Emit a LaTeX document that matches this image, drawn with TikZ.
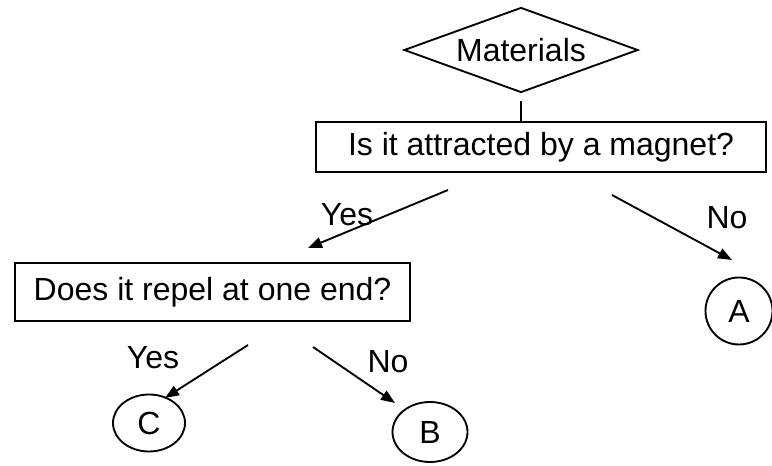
\documentclass[tikz,border=0pt]{standalone}
\usepackage{fontspec}
\setmainfont{Liberation Sans}
\usetikzlibrary{shapes.geometric,arrows.meta}
\begin{document}
\begin{tikzpicture}[x=0.75pt,y=0.75pt,yscale=-1,xscale=1,
  every node/.style={font=\fontsize{24}{29}\selectfont, inner sep=0.75pt},
  qbox/.style={draw, line width=1.4pt},
  leaf/.style={draw, ellipse, line width=1.4pt},
  arr/.style={line width=1.4pt, -{Triangle[length=10.5pt,width=8pt]}}]
\useasboundingbox (0,0) rectangle (772,466);

%Shape: Diamond [id:mat]
\node (mat) at (521,50) [draw, diamond, shape aspect=2.75, line width=1.4pt, inner sep=0pt, minimum width=175.5pt, minimum height=63.75pt] {Materials};
%Shape: Rectangle [id:q1]
\node (q1) at (541,147) [qbox, minimum width=337.5pt, minimum height=37.5pt] {Is it attracted by a magnet?};
%Shape: Rectangle [id:q2]
\node (q2) at (212.5,292) [qbox, minimum width=296.25pt, minimum height=43.5pt] {Does it repel at one end?};
%Shape: Circle [id:lfA]
\node (lfA) at (739,311) [leaf, minimum width=50.25pt, minimum height=50.25pt] {A};
%Shape: Circle [id:lfC]
\node (lfC) at (149,423) [leaf, minimum width=54pt, minimum height=42.75pt] {C};
%Shape: Circle [id:lfB]
\node (lfB) at (430,432) [leaf, minimum width=56.25pt, minimum height=45pt] {B};

%Straight Lines [id:stem]
\draw [line width=1.4pt, shorten <=5.5pt] (mat.south) -- (mat.south |- q1.north) ;

% arrow ends
\coordinate (y1a) at (448,190);
\coordinate (y1b) at (308,248);
\coordinate (n1a) at (612,195);
\coordinate (n1b) at (732,260);
\coordinate (y2a) at (248,345);
\coordinate (y2b) at (165,398);
\coordinate (n2a) at (313,347);
\coordinate (n2b) at (395,403);

%Straight Lines [id:yes1]
\draw [arr] (y1a) -- (y1b) ;
%Straight Lines [id:no1]
\draw [arr] (n1a) -- (n1b) ;
%Straight Lines [id:yes2]
\draw [arr] (y2a) -- (y2b) ;
%Straight Lines [id:no2]
\draw [arr] (n2a) -- (n2b) ;

% Text Node
\node (tyes1) at (347,215) {Yes};
% Text Node
\node (tno1) at (727,218) {No};
% Text Node
\node (tyes2) at (153,358) {Yes};
% Text Node
\node (tno2) at (388,362) {No};

\end{tikzpicture}
\end{document}
